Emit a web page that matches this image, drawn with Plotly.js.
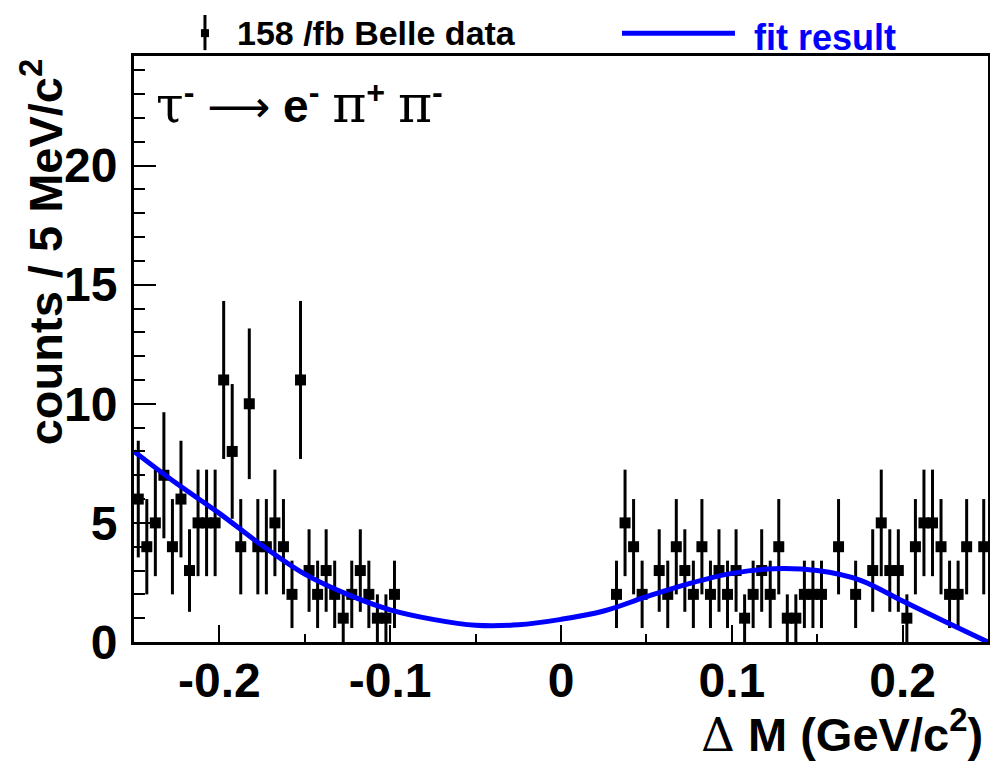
<!DOCTYPE html>
<html>
<head>
<meta charset="utf-8">
<script src="https://cdn.plot.ly/plotly-3.0.1.min.js"></script>
<style>html,body{margin:0;padding:0;background:#fff;}#chart{width:990px;height:765px;}</style>
</head>
<body>
<div id="chart"></div>
<script>
// Histogram: 100 bins of 5 MeV from -0.25 to 0.25 GeV/c^2
const binLow = -0.25;
const binWidth = 0.005;
const counts = [
  6,4,5,7,4,6,3,5,5,5,
  11,8,4,10,4,4,5,4,2,11,
  3,2,3,2,1,2,3,2,1,1,
  2,0,0,0,0,0,0,0,0,0,
  0,0,0,0,0,0,0,0,0,0,
  0,0,0,0,0,0,2,5,4,2,
  0,3,2,4,3,2,4,2,3,2,
  3,1,2,3,2,4,1,1,2,2,
  2,0,4,0,2,0,3,5,3,3,
  1,4,5,5,4,2,2,4,0,4
];
// Fit curve
const fitX = [-0.25,-0.225,-0.2,-0.175,-0.15,-0.125,-0.1,-0.075,-0.05,-0.025,0,0.025,0.05,0.075,0.1,0.125,0.15,0.175,0.2,0.225,0.25];
const fitY = [8.0,6.65,5.4,4.05,2.85,2.0,1.35,0.95,0.7,0.72,0.95,1.3,1.9,2.45,2.88,3.08,3.0,2.6,1.72,0.85,0.0];
const xTickVals = [-0.2,-0.1,0,0.1,0.2];
const xTickText = ['-0.2','-0.1','0','0.1','0.2'];

const xs = [], ys = [], es = [];
counts.forEach((c, i) => {
  if (c > 0) {
    xs.push(binLow + binWidth * (i + 0.5));
    ys.push(c);
    es.push(Math.sqrt(c));
  }
});

const FONT = '"Liberation Sans", Arial, Helvetica, sans-serif';
const SERIF = "'DejaVu Serif', 'Liberation Serif', serif";

const data = [
  {
    type: 'scatter', mode: 'markers', x: xs, y: ys,
    marker: {symbol: 'square', size: 11, color: '#000'},
    error_y: {type: 'data', array: es, visible: true, thickness: 3, width: 0, color: '#000'},
    hoverinfo: 'skip'
  },
  {
    type: 'scatter', mode: 'lines', x: fitX, y: fitY,
    line: {color: '#0000ff', width: 5, shape: 'spline', smoothing: 1},
    hoverinfo: 'skip'
  }
];

const sp = (t, sz) => `<span style="font-family:${SERIF};font-weight:normal;font-size:${sz}px">${t}</span>`;
const arrow = `<span style="font-family:'DejaVu Sans';font-weight:normal;font-size:44px">⟶</span>`;

const layout = {
  width: 990, height: 765,
  margin: {l: 134, r: 2, t: 56, b: 123},
  paper_bgcolor: '#fff', plot_bgcolor: '#fff',
  showlegend: false,
  font: {family: FONT, color: '#000'},
  xaxis: {
    range: [-0.25, 0.25],
    tickmode: 'array', tickvals: xTickVals, ticktext: xTickText,
    ticks: 'inside', ticklen: 17, tickwidth: 2, tickcolor: '#000',
    minor: {dtick: 0.05, tick0: 0, ticks: 'inside', ticklen: 8, tickwidth: 2, tickcolor: '#000'},
    showline: true, linewidth: 3, linecolor: '#000', mirror: true,
    showgrid: false, zeroline: false,
    tickfont: {family: FONT, size: 48, weight: 'bold', color: '#000'},
    ticklabelstandoff: -6
  },
  yaxis: {
    range: [0, 24.6],
    tickmode: 'linear', tick0: 0, dtick: 5,
    ticks: 'inside', ticklen: 22, tickwidth: 2, tickcolor: '#000',
    minor: {dtick: 1, tick0: 0, ticks: 'inside', ticklen: 11, tickwidth: 2, tickcolor: '#000'},
    showline: true, linewidth: 3, linecolor: '#000', mirror: true,
    showgrid: false, zeroline: false,
    tickfont: {family: FONT, size: 48, weight: 'bold', color: '#000'},
    ticklabelstandoff: 4
  },
  annotations: [
    {xref: 'paper', yref: 'paper', x: -0.108, y: 1.0, xanchor: 'center', yanchor: 'top',
     textangle: -90, showarrow: false,
     text: 'counts / 5 MeV/c<sup>2</sup>',
     font: {family: FONT, size: 47, weight: 'bold', color: '#000'}},
    {xref: 'paper', yref: 'paper', x: 0.9965, y: -0.152, xanchor: 'right', yanchor: 'middle',
     showarrow: false,
     text: sp('Δ', 47) + ' M (GeV/c<sup>2</sup>)',
     font: {family: FONT, size: 47, weight: 'bold', color: '#000'}},
    {xref: 'paper', yref: 'paper', x: 0.024, y: 0.918, xanchor: 'left', yanchor: 'middle',
     showarrow: false,
     text: sp('τ', 50) + '<sup>-</sup> ' + arrow + ' e<sup>-</sup> ' + sp('π', 52) + '<sup>+</sup> ' + sp('π', 52) + '<sup>-</sup>',
     font: {family: FONT, size: 46, weight: 'bold', color: '#000'}},
    {xref: 'paper', yref: 'paper', x: 0.118, y: 1.039, xanchor: 'left', yanchor: 'middle',
     showarrow: false, text: '158 /fb Belle data',
     font: {family: FONT, size: 34, weight: 'bold', color: '#000'}},
    {xref: 'paper', yref: 'paper', x: 0.7237, y: 1.031, xanchor: 'left', yanchor: 'middle',
     showarrow: false, text: 'fit result',
     font: {family: FONT, size: 36, weight: 'bold', color: '#0000ff'}}
  ],
  shapes: [
    {type: 'line', xref: 'paper', yref: 'paper', x0: 0.0831, x1: 0.0831, y0: 1.01, y1: 1.07,
     line: {color: '#000', width: 3}},
    {type: 'rect', xref: 'paper', yref: 'paper', x0: 0.0831 - 0.0047, x1: 0.0831 + 0.0047,
     y0: 1.039 - 0.0068, y1: 1.039 + 0.0068, fillcolor: '#000', line: {width: 0}},
    {type: 'line', xref: 'paper', yref: 'paper', x0: 0.5714, x1: 0.7037, y0: 1.039, y1: 1.039,
     line: {color: '#0000ff', width: 5}}
  ]
};

Plotly.newPlot('chart', data, layout, {displayModeBar: false, staticPlot: true});
</script>
</body>
</html>
